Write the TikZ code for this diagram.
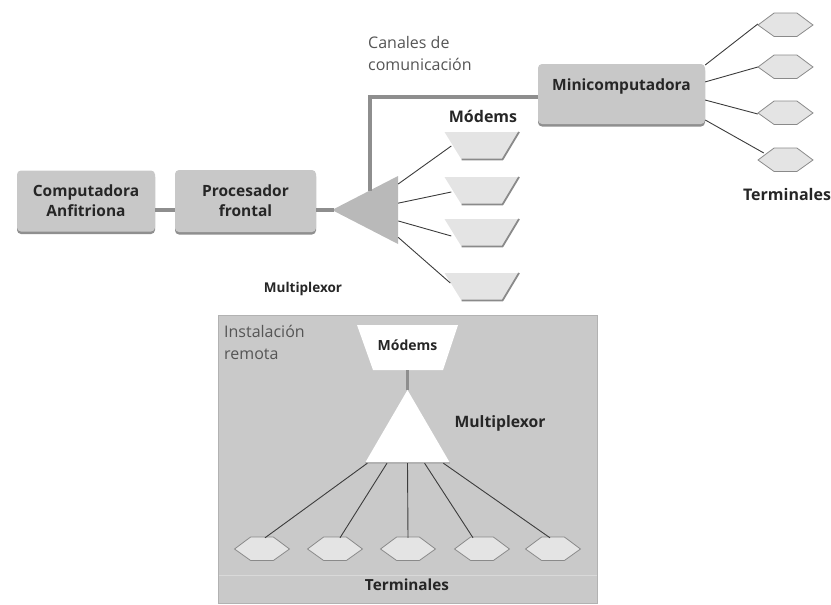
\documentclass[tikz,border=0pt]{standalone}
\usepackage{fontspec}
\setmainfont{Open Sans}
\usetikzlibrary{calc,shadows}
\definecolor{boxgray}{HTML}{C8C8C8}
\definecolor{chgray}{HTML}{8E8E8E}
\definecolor{thin}{HTML}{3C3C3C}
\definecolor{lightfill}{HTML}{E4E4E4}
\definecolor{edgegray}{HTML}{8A8A8A}
\definecolor{txtgray}{HTML}{555555}
\definecolor{remotefill}{HTML}{C9C9C9}
\begin{document}
\begin{tikzpicture}[x=1pt,y=-1pt,
  box/.style={rounded corners=4pt, fill=boxgray, inner sep=0pt, align=center,
    font=\bfseries\fontsize{15.5}{20}\selectfont, text=black!85,
    drop shadow={shadow xshift=0pt, shadow yshift=-2.5pt, fill=black!55, opacity=0.8}},
  channel/.style={draw=chgray, line width=4pt},
  wire/.style={draw=thin, line width=0.9pt},
  hexnode/.style={minimum width=57pt, minimum height=26pt, inner sep=0pt,
    path picture={
      \path[fill=lightfill, draw=edgegray, line width=0.8pt]
        ($(path picture bounding box.west)+(1,0)$)
        -- ($(path picture bounding box.north west)!0.3!(path picture bounding box.north east)+(0,1)$)
        -- ($(path picture bounding box.north west)!0.7!(path picture bounding box.north east)+(0,1)$)
        -- ($(path picture bounding box.east)+(-1,0)$)
        -- ($(path picture bounding box.south west)!0.7!(path picture bounding box.south east)+(0,-1.5)$)
        -- ($(path picture bounding box.south west)!0.3!(path picture bounding box.south east)+(0,-1.5)$)
        -- cycle;}},
  modem/.style={minimum width=77pt, minimum height=30pt, inner sep=0pt,
    path picture={
      \fill[lightfill]
        ($(path picture bounding box.north west)+(1,1)$)
        -- ($(path picture bounding box.north east)+(-1,1)$)
        -- ($(path picture bounding box.south east)+(-18,-1.5)$)
        -- ($(path picture bounding box.south west)+(18,-1.5)$) -- cycle;
      \draw[edgegray, line width=1.8pt, line join=round]
        ($(path picture bounding box.north east)+(-1.5,1)$)
        -- ($(path picture bounding box.south east)+(-18,-1.5)$)
        -- ($(path picture bounding box.south west)+(18,-1.5)$);}},
  lbl/.style={font=\bfseries\fontsize{16}{18}\selectfont, text=black!85},
  plain/.style={font=\fontsize{16}{22}\selectfont, text=txtgray, align=left, inner sep=0pt}
]
\useasboundingbox (0,0) rectangle (831,605);

% remote installation background
\node[fill=remotefill, draw=black!30, minimum width=379pt, minimum height=288pt, inner sep=0pt] (remote) at (408,459) {};
\draw[black!15, line width=0.8pt] ($(remote.south west)+(1,-28)$) coordinate (stripL) -- ($(remote.south east)+(-1,-28)$) coordinate (stripR);

% main boxes
\node[box, minimum width=138pt, minimum height=61pt] (host) at (86,201) {Computadora\\Anfitriona};
\node[box, minimum width=141pt, minimum height=62pt] (front) at (245.5,201) {Procesador\\frontal};
\node[box, minimum width=167pt, minimum height=60pt] (mini) at (621.5,94) {Minicomputadora\\[-2pt]\mbox{}};

% multiplexer (gray triangle pointing left)
\node[minimum width=66pt, minimum height=68pt, inner sep=0pt,
  path picture={\fill[chgray!62] (path picture bounding box.west) -- (path picture bounding box.north east) -- (path picture bounding box.south east) -- cycle;}] (mux) at (365,210) {};

% connectors
\draw[channel] (host.east |- mux.west) -- (front.west |- mux.west);
\draw[channel] (front.east |- mux.west) -- ($(mux.west)+(2,0)$);
\coordinate (chs) at ($(mux.west)!0.57!(mux.north east)$);
\draw[channel] (chs) |- ($(mini.west)+(0,3)$);

% modems
\node[modem] (m1) at (482,146) {};
\node[modem] (m2) at (482,191) {};
\node[modem] (m3) at (482,233) {};
\node[modem] (m4) at (482,287) {};
\draw[wire] ($(mux.north east)!0.12!(mux.south east)$) -- ($(m1.west)+(8,0)$);
\draw[wire] ($(mux.north east)!0.40!(mux.south east)$) -- ($(m2.west)+(8,1)$);
\draw[wire] ($(mux.north east)!0.66!(mux.south east)$) -- ($(m3.west)+(8,3)$);
\draw[wire] ($(mux.north east)!0.90!(mux.south east)$) -- ($(m4.west)+(7,-4)$);

% right terminals
\node[hexnode] (h1) at (785.5,25) {};
\node[hexnode] (h2) at (785.5,67) {};
\node[hexnode] (h3) at (785.5,113) {};
\node[hexnode] (h4) at (785.5,160) {};
\draw[wire] ($(mini.north east)!0.02!(mini.south east)$) -- ($(h1.west)+(1,-1)$);
\draw[wire] ($(mini.north east)!0.30!(mini.south east)$) -- ($(h2.west)+(1,0)$);
\draw[wire] ($(mini.north east)!0.60!(mini.south east)$) -- ($(h3.west)+(1,1)$);
\draw[wire] ($(mini.north east)!0.93!(mini.south east)$) -- ($(h4.west)+(7,-7)$);

% labels top
\node[plain, anchor=north west] (canales) at (368,36) {Canales de\\comunicación};
\node[lbl] (modlbl) at (483,116) {Módems};
\node[lbl] (termlbl) at (787,194) {Terminales};
\node[lbl, font=\bfseries\fontsize{13.5}{15}\selectfont] (muxlbl) at (303,289) {Multiplexor};

% remote content
\node[plain, anchor=north west] (inst) at (224,325) {Instalación\\remota};
\node[minimum width=101pt, minimum height=45pt, inner sep=0pt,
  font=\bfseries\fontsize{14}{16}\selectfont, text=black!85, text depth=4pt,
  path picture={\fill[white] (path picture bounding box.north west) -- (path picture bounding box.north east) -- ($(path picture bounding box.south east)+(-15,0)$) -- ($(path picture bounding box.south west)+(16,0)$) -- cycle;}] (rmodem) at (407.5,347.5) {Módems};
\node[minimum width=85pt, minimum height=73pt, inner sep=0pt,
  path picture={\fill[white] (path picture bounding box.north) -- (path picture bounding box.south east) -- (path picture bounding box.south west) -- cycle;
    \draw[black!30, line width=1.5pt] (path picture bounding box.south west) -- (path picture bounding box.south east);}] (rmux) at (407.5,426.5) {};
\draw[chgray, line width=3.5pt] (rmodem.south) -- (rmux.north);
\node[lbl, font=\bfseries\fontsize{15.7}{18}\selectfont] (rmuxlbl) at (500,423) {Multiplexor};

% remote terminals
\node[hexnode] (t1) at (262,549) {};
\node[hexnode] (t2) at (335,549) {};
\node[hexnode] (t3) at (408,549) {};
\node[hexnode] (t4) at (482,549) {};
\node[hexnode] (t5) at (553,549) {};
\draw[wire] ($(rmux.south west)!0.03!(rmux.south east)$) -- ($(t1.north)+(3,2)$);
\draw[wire] ($(rmux.south west)!0.26!(rmux.south east)$) -- ($(t2.north)+(5,2)$);
\draw[wire] (rmux.south) -- ($(t3.north)+(0,2)$);
\draw[wire] ($(rmux.south west)!0.70!(rmux.south east)$) -- ($(t4.north)+(-9,2)$);
\draw[wire] ($(rmux.south west)!0.92!(rmux.south east)$) -- ($(t5.north)+(-3,2)$);
\node[lbl, font=\bfseries\fontsize{15.3}{18}\selectfont] (rtermlbl) at (407,585) {Terminales};
\end{tikzpicture}
\end{document}
